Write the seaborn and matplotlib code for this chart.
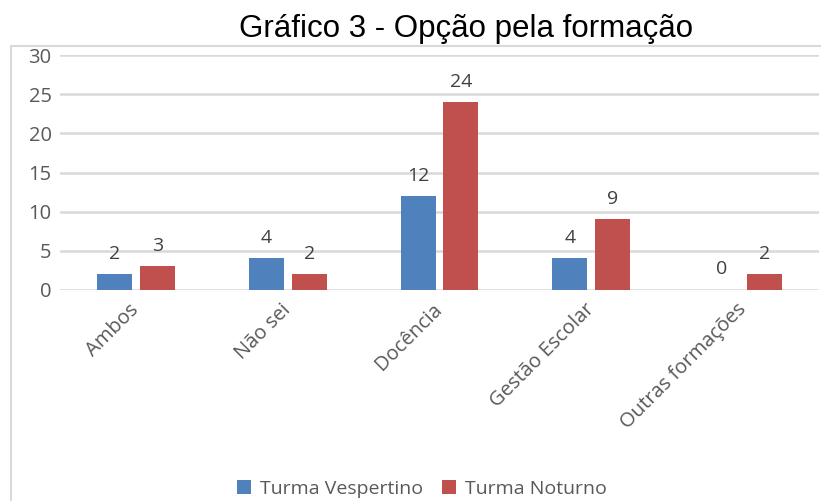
import pandas as pd
import seaborn as sns
import matplotlib.pyplot as plt
from matplotlib.patches import Rectangle, Patch
from matplotlib.transforms import ScaledTranslation

# dados do gráfico
categorias = ['Ambos', 'Não sei', 'Docência', 'Gestão Escolar', 'Outras formações']
vespertino = [2, 4, 12, 4, 0]
noturno = [3, 2, 24, 9, 2]
turmas = ['Turma Vespertino', 'Turma Noturno']
y_ticks = [0, 5, 10, 15, 20, 25, 30]

cores = ['#4F81BD', '#C0504D']
cinza_texto = '#595959'
cinza_grade = '#D9D9D9'

df = pd.DataFrame({
    'categoria': categorias * 2,
    'valor': vespertino + noturno,
    'turma': [turmas[0]] * len(categorias) + [turmas[1]] * len(categorias),
})

sns.set_style('white')
plt.rcParams['font.family'] = ['Open Sans', 'DejaVu Sans']

W, H = 821, 501
fig = plt.figure(figsize=(W / 100, H / 100), dpi=100)
ax = fig.add_axes([60 / W, 1 - 290 / H, (819 - 60) / W, (290 - 55) / H])

#create the bar plot
sns.barplot(data=df, x='categoria', y='valor', hue='turma', palette=cores,
            width=0.566, gap=0.186, errorbar=None, ax=ax, saturation=1, linewidth=0)

# rótulos de dados
for cont in ax.containers:
    ax.bar_label(cont, fmt='%d', padding=8, fontsize=14, color='#404040')

ax.set_ylim(-0.06, 30.06)
ax.set_yticks(y_ticks)
ax.set_xlim(-0.5, len(categorias) - 0.5)
ax.yaxis.grid(True, color=cinza_grade, lw=1.8)
ax.set_axisbelow(True)
sns.despine(ax=ax, left=True, bottom=True, top=True, right=True)
ax.set_xlabel('')
ax.set_ylabel('')
ax.tick_params(axis='both', length=0, labelsize=14.5, labelcolor=cinza_texto)
ax.tick_params(axis='y', pad=6)
ax.tick_params(axis='x', pad=7)
desloc = ScaledTranslation(-7 / 100, 0, fig.dpi_scale_trans)
for lbl in ax.get_xticklabels():
    lbl.set_rotation(45)
    lbl.set_ha('right')
    lbl.set_va('top')
    lbl.set_rotation_mode('anchor')
    lbl.set_transform(lbl.get_transform() + desloc)

ax.get_legend().remove()

# título
fig.text(466 / W, 1 - 37 / H, 'Gráfico 3 - Opção pela formação', ha='center', va='baseline',
         fontsize=22.5, family='Liberation Sans', color='black')

# moldura do gráfico
fig.patches.append(Rectangle((11 / W, -0.1), 1.2, 1 - 46 / H + 0.1, transform=fig.transFigure,
                             fill=False, edgecolor=cinza_grade, lw=1.5))

# legenda
handles = [Patch(facecolor=c, edgecolor='none') for c in cores]
fig.legend(handles, turmas, loc='center', bbox_to_anchor=(422 / W, 1 - 489 / H), ncol=2,
           frameon=False, fontsize=14, handlelength=0.7, handleheight=0.7,
           handletextpad=0.45, columnspacing=1.0, labelcolor=cinza_texto)

fig.savefig('out.png', dpi=100)
